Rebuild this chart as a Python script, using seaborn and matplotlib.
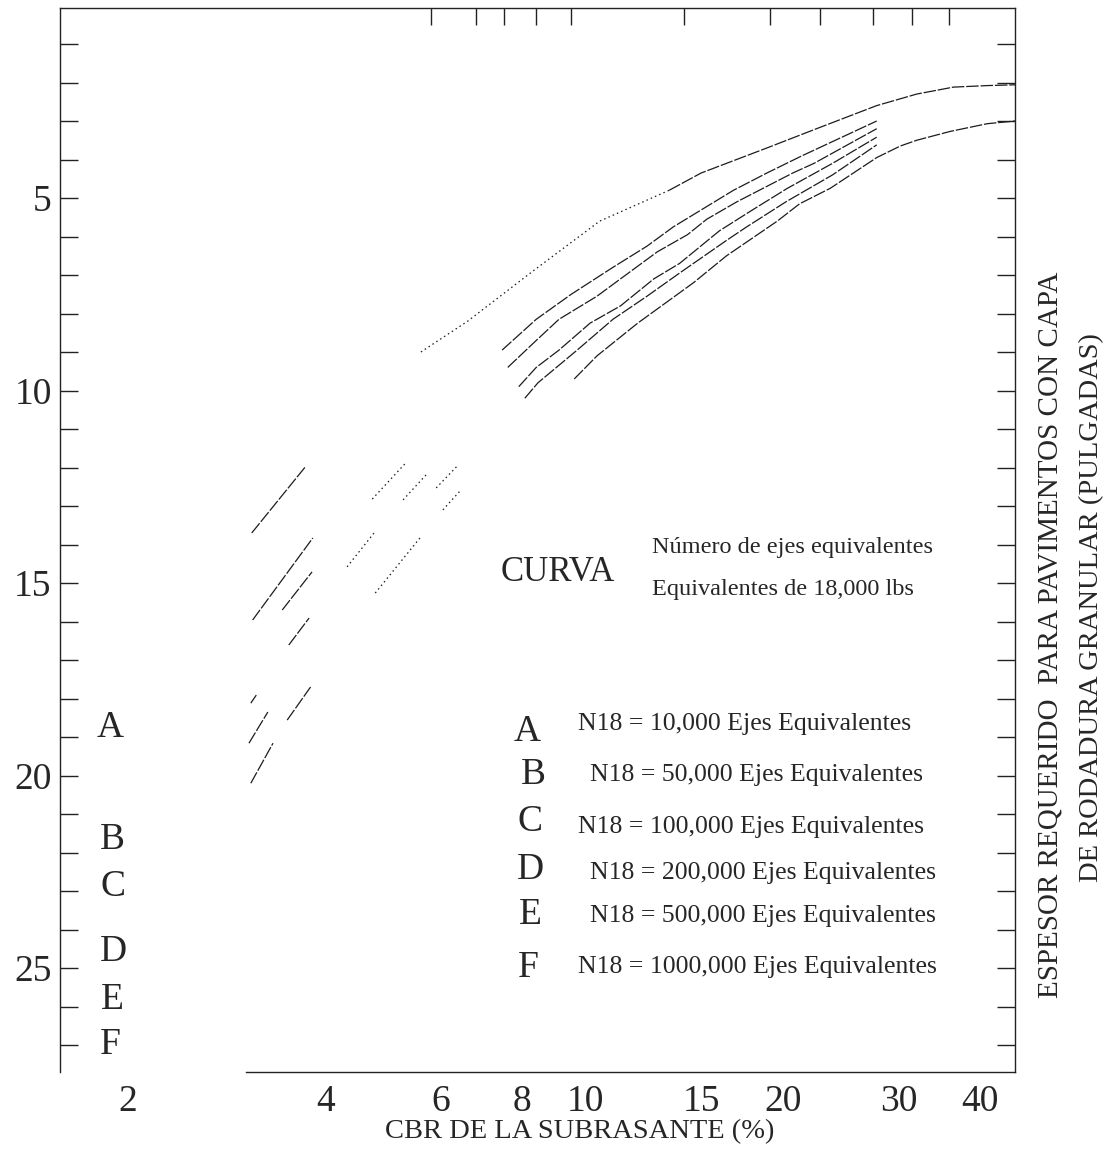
import matplotlib
matplotlib.use("Agg")
import seaborn as sns
import matplotlib.pyplot as plt
import pandas as pd
from matplotlib.ticker import FixedLocator, NullLocator, NullFormatter

# Curves: CBR (%) vs required thickness (inches)
a_cbr = [5.6, 6.6, 8.3, 10.5, 13.4, 15.0, 18.9, 22.5, 27.8, 32.0, 36.4, 41.0, 45.2]
a_esp = [9.0, 8.2, 6.9, 5.6, 4.8, 4.35, 3.7, 3.2, 2.6, 2.3, 2.12, 2.08, 2.06]
a_faint_upto = 4  # in the scan curve A is only dotted up to CBR 13.4

b_cbr = [7.45, 8.4, 9.5, 11.0, 12.4, 13.6, 16.8, 18.9, 21.4, 27.8]
b_esp = [8.95, 8.15, 7.5, 6.8, 6.25, 5.75, 4.8, 4.35, 3.9, 3.0]

c_cbr = [7.6, 8.4, 9.1, 10.4, 11.4, 12.85, 14.3, 15.3, 17.0, 20.7, 22.3, 27.8]
c_esp = [9.4, 8.7, 8.15, 7.55, 7.05, 6.4, 5.95, 5.55, 5.1, 4.35, 4.1, 3.2]

d_cbr = [7.9, 8.4, 9.1, 10.15, 11.3, 12.7, 13.9, 16.0, 18.0, 20.3, 23.8, 27.8]
d_esp = [9.9, 9.4, 8.95, 8.25, 7.8, 7.1, 6.7, 5.85, 5.3, 4.75, 4.1, 3.42]

e_cbr = [8.07, 8.45, 9.7, 11.0, 12.4, 13.9, 16.4, 17.6, 20.2, 23.8, 27.8]
e_esp = [10.2, 9.8, 8.95, 8.15, 7.55, 6.95, 6.1, 5.75, 5.1, 4.4, 3.62]

f_cbr = [9.6, 10.4, 12.0, 14.6, 16.4, 19.6, 21.2, 23.6, 27.8, 30.2, 32.0, 36.0, 41.0, 45.2]
f_esp = [9.7, 9.1, 8.25, 7.2, 6.5, 5.6, 5.15, 4.75, 3.95, 3.65, 3.5, 3.27, 3.07, 3.0]

# short pieces still visible at low CBR
low_cbr = [[3.09, 3.74], [3.10, 3.83], [3.44, 3.82], [3.52, 3.78],
           [3.08, 3.14], [3.50, 3.80], [3.06, 3.27], [3.08, 3.33]]
low_esp = [[13.7, 11.96], [15.96, 13.83], [15.7, 14.71], [16.61, 15.91],
           [18.12, 17.91], [18.56, 17.7], [19.16, 18.35], [20.2, 19.16]]

# very faint dotted pieces
faint_cbr = [[4.77, 5.6], [4.32, 4.75], [4.72, 5.31], [5.26, 5.74], [5.91, 6.38], [6.05, 6.45]]
faint_esp = [[15.26, 13.8], [14.58, 13.7], [12.82, 11.88], [12.84, 12.14], [12.53, 11.94], [13.1, 12.58]]

letters = ["A", "B", "C", "D", "E", "F"]
loads = ["10,000", "50,000", "100,000", "200,000", "500,000", "1000,000"]

x_labels = [2, 4, 6, 8, 10, 15, 20, 30, 40]
bottom_ticks = [3, 5, 6, 7, 8, 9, 10, 15, 20, 24.5, 29.5, 34, 39]
top_ticks = [5.8, 6.8, 7.5, 8.4, 9.5, 14.1, 19.1, 22.8, 27.4, 31.5, 35.8]
y_labels = [5, 10, 15, 20, 25]
y_ticks = list(range(1, 28))

# build one long table, one "seg" per drawn piece
pieces = [
    (a_cbr[:a_faint_upto + 1], a_esp[:a_faint_upto + 1], "faint"),
    (a_cbr[a_faint_upto:], a_esp[a_faint_upto:], "main"),
    (b_cbr, b_esp, "main"),
    (c_cbr, c_esp, "main"),
    (d_cbr, d_esp, "main"),
    (e_cbr, e_esp, "main"),
    (f_cbr, f_esp, "main"),
]
pieces += [(xs, ys, "main") for xs, ys in zip(low_cbr, low_esp)]
pieces += [(xs, ys, "faint") for xs, ys in zip(faint_cbr, faint_esp)]

rows = []
for seg, (xs, ys, kind) in enumerate(pieces):
    for x, y in zip(xs, ys):
        rows.append({"cbr": x, "esp": y, "seg": seg, "kind": kind})
df = pd.DataFrame(rows)

sns.set_style("white")
plt.rcParams["font.family"] = ["Liberation Serif", "DejaVu Serif"]

W, H = 1119, 1150
fig = plt.figure(figsize=(W / 100, H / 100), dpi=100)
ax = fig.add_axes([60 / W, 1 - 1072 / H, 955 / W, 1064 / H])

sns.lineplot(data=df, x="cbr", y="esp", units="seg", estimator=None, sort=False,
             style="kind", dashes={"main": (10, 1.5), "faint": (1.2, 2.5)},
             color="#1c1c1c", linewidth=0.9, legend=False, ax=ax)

ax.set_xscale("log")
ax.set_xlim(1.575, 45.2)
ax.set_ylim(27.7, 0.065)
ax.set_xlabel("")
ax.set_ylabel("")

ax.set_xticks(x_labels)
ax.set_xticklabels([str(v) for v in x_labels])
ax.xaxis.set_minor_locator(FixedLocator(bottom_ticks))
ax.xaxis.set_minor_formatter(NullFormatter())
ax.tick_params(axis="x", which="major", length=0, pad=9, labelsize=27)
ax.tick_params(axis="x", which="minor", direction="in", length=11, width=1, color="#222")

ax.set_yticks(y_labels)
ax.set_yticklabels([str(v) for v in y_labels])
ax.yaxis.set_minor_locator(FixedLocator(y_ticks))
ax.tick_params(axis="y", which="both", direction="in", length=13, width=1,
               left=True, right=True, labelsize=27, pad=6, color="#222")

top = ax.secondary_xaxis("top")
top.xaxis.set_major_locator(FixedLocator(top_ticks))
top.xaxis.set_minor_locator(NullLocator())
top.xaxis.set_major_formatter(NullFormatter())
top.tick_params(direction="in", length=12, width=1, color="#222")
top.spines["top"].set_visible(False)

for s in ax.spines.values():
    s.set_linewidth(1.0)
    s.set_color("#222")
ax.spines["bottom"].set_bounds(3.03, 45.2)


def fx(px):
    return px / W


def fy(py):
    return 1 - py / H


# letters next to the left axis
left_pos = [(110, 728), (112, 840), (113, 887), (113, 952), (112, 1000), (110, 1045)]
for L, (px, py) in zip(letters, left_pos):
    fig.text(fx(px), fy(py), L, ha="center", va="center", fontsize=27)

fig.text(fx(558), fy(573), "CURVA", ha="center", va="center", fontsize=25)
fig.text(fx(652), fy(548), "Número de ejes equivalentes", ha="left", va="center", fontsize=17.5)
fig.text(fx(652), fy(590), "Equivalentes de 18,000 lbs", ha="left", va="center", fontsize=17.5)

leg_letter = [(527, 732), (533, 775), (530, 822), (530, 870), (530, 915), (528, 968)]
leg_text = [(578, 724), (590, 775), (578, 827), (590, 873), (590, 916), (578, 967)]
for L, n, (lx, ly), (tx, ty) in zip(letters, loads, leg_letter, leg_text):
    fig.text(fx(lx), fy(ly), L, ha="center", va="center", fontsize=27)
    fig.text(fx(tx), fy(ty), f"N18 = {n} Ejes Equivalentes", ha="left", va="center", fontsize=18.5)

fig.text(fx(580), fy(1132), "CBR DE LA SUBRASANTE (%)", ha="center", va="center", fontsize=20.5)
fig.text(fx(1050), fy(635), "ESPESOR REQUERIDO  PARA PAVIMENTOS CON CAPA",
         ha="center", va="center", rotation=90, fontsize=21)
fig.text(fx(1092), fy(608), "DE RODADURA GRANULAR (PULGADAS)",
         ha="center", va="center", rotation=90, fontsize=20.5)

fig.savefig("out.png", dpi=100)
